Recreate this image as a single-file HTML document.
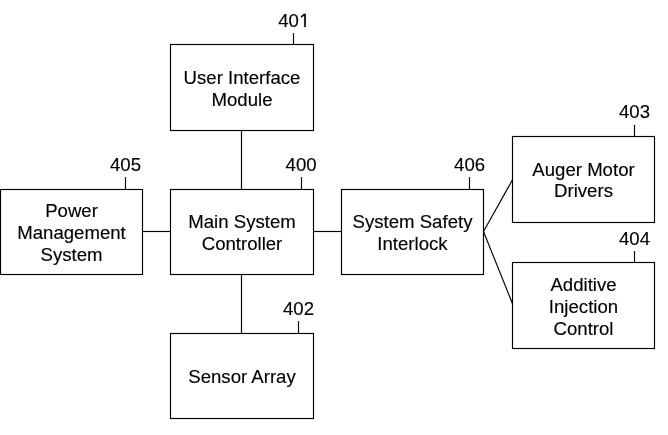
<!DOCTYPE html>
<html><head><meta charset="utf-8">
<style>
html,body{margin:0;padding:0;background:#fff;}
body{width:668px;height:435px;overflow:hidden;position:relative;}
svg{position:absolute;left:0;top:0;will-change:transform;}
text{font-family:"Liberation Sans",sans-serif;font-size:18.6px;fill:#000;stroke:#000;stroke-width:0.15px;}
</style></head><body>
<svg width="668" height="435" viewBox="0 0 668 435">

<g fill="none" stroke="#000" stroke-width="1.15">
<rect x="170.5" y="44.5" width="143" height="86"/>
<rect x="0.5" y="189.5" width="142" height="85"/>
<rect x="170.5" y="189.5" width="143" height="85"/>
<rect x="341.5" y="189.5" width="142" height="85"/>
<rect x="512.5" y="136.5" width="142" height="86"/>
<rect x="512.5" y="262.5" width="142" height="86"/>
<rect x="170.5" y="333.5" width="143" height="85"/>
<line x1="241.5" y1="130.5" x2="241.5" y2="189.5"/>
<line x1="241.5" y1="274.5" x2="241.5" y2="333.5"/>
<line x1="142.5" y1="231.5" x2="170.5" y2="231.5"/>
<line x1="313.5" y1="231.5" x2="341.5" y2="231.5"/>
<line x1="293.5" y1="33.1" x2="293.5" y2="44.5"/>
<line x1="125.5" y1="177.1" x2="125.5" y2="189.5"/>
<line x1="301.5" y1="177.1" x2="301.5" y2="189.5"/>
<line x1="469.5" y1="177.1" x2="469.5" y2="189.5"/>
<line x1="634.5" y1="124.9" x2="634.5" y2="136.5"/>
<line x1="634.5" y1="251.1" x2="634.5" y2="262.5"/>
<line x1="298.5" y1="321.1" x2="298.5" y2="333.5"/>
<polyline points="512.5,179.8 483.5,231.5 512.5,303.8"/>
</g>
<text transform="translate(242,84) scale(1,1.03)" text-anchor="middle">User Interface</text>
<text transform="translate(242,105.6) scale(1,1.03)" text-anchor="middle">Module</text>
<text transform="translate(71.5,217) scale(1,1.03)" text-anchor="middle">Power</text>
<text transform="translate(71.5,239) scale(1,1.03)" text-anchor="middle">Management</text>
<text transform="translate(71.5,261) scale(1,1.03)" text-anchor="middle">System</text>
<text transform="translate(242,228) scale(1,1.03)" text-anchor="middle">Main System</text>
<text transform="translate(242,250) scale(1,1.03)" text-anchor="middle">Controller</text>
<text transform="translate(412.5,228) scale(1,1.03)" text-anchor="middle">System Safety</text>
<text transform="translate(412.5,250) scale(1,1.03)" text-anchor="middle">Interlock</text>
<text transform="translate(583.5,175.5) scale(1,1.03)" text-anchor="middle">Auger Motor</text>
<text transform="translate(583.5,197.4) scale(1,1.03)" text-anchor="middle">Drivers</text>
<text transform="translate(583.5,291) scale(1,1.03)" text-anchor="middle">Additive</text>
<text transform="translate(583.5,313) scale(1,1.03)" text-anchor="middle">Injection</text>
<text transform="translate(583.5,335) scale(1,1.03)" text-anchor="middle">Control</text>
<text transform="translate(242,383) scale(1,1.03)" text-anchor="middle">Sensor Array</text>
<text transform="translate(278.2,27) scale(1,1.03)" text-anchor="start">40</text>
<text transform="translate(110.0,171) scale(1,1.03)" text-anchor="start">405</text>
<text transform="translate(285.6,171) scale(1,1.03)" text-anchor="start">400</text>
<text transform="translate(454.1,171) scale(1,1.03)" text-anchor="start">406</text>
<text transform="translate(619.0,118.4) scale(1,1.03)" text-anchor="start">403</text>
<text transform="translate(619.0,245) scale(1,1.03)" text-anchor="start">404</text>
<text transform="translate(283.0,315) scale(1,1.03)" text-anchor="start">402</text>
<path transform="translate(298.89,27) scale(1,1.03)" d="M5.29,0.00 L5.29,-10.90 L2.03,-9.08 L2.03,-10.54 L5.09,-12.80 L6.93,-12.80 L6.93,0.00Z" fill="#000" stroke="#000" stroke-width="0.15"/>
</svg>
</body></html>
